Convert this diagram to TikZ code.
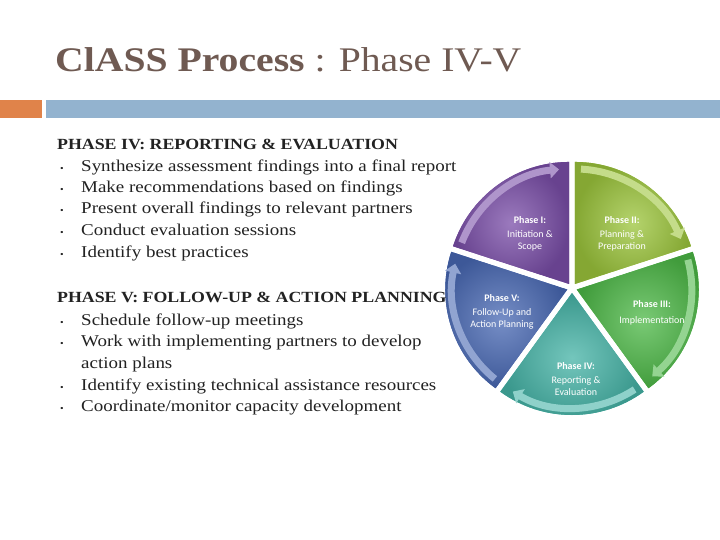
\documentclass[tikz,border=0pt]{standalone}
\usepackage{fontspec}
\setmainfont[FakeStretch=1.15]{Liberation Serif}
\newfontfamily\lblfont{Carlito}
\usetikzlibrary{arrows.meta}
\definecolor{titlec}{HTML}{6F5A52}
\definecolor{orangec}{HTML}{E0834A}
\definecolor{bluec}{HTML}{93B3CF}
\definecolor{txt}{HTML}{222222}
\definecolor{pI}{HTML}{7A4EA8}
\definecolor{pII}{HTML}{9CC53C}
\definecolor{pIII}{HTML}{4DB847}
\definecolor{pIV}{HTML}{45B3A6}
\definecolor{pV}{HTML}{4868B3}
\tikzset{
  body/.style={anchor=base west,font=\fontsize{16.5}{18}\selectfont,text=txt,inner sep=0},
  head/.style={body,font=\fontsize{15.5}{18}\selectfont\bfseries},
  bul/.style={anchor=base west,font=\fontsize{9}{10}\selectfont,text=txt,inner sep=0},
  lbl/.style={align=center,text=white,font=\lblfont\fontsize{10}{12}\selectfont,inner sep=0},
}
\newcommand{\slice}[4]{% start angle, end angle, color, name
  \begin{scope}[shift={(#1/2+#2/2:5)}]
    \fill[#3, shading=radial, inner color=#3!75!white, outer color=#3!85!black]
      (0,0) -- (#1:122) arc[start angle=#1,end angle=#2,radius=122] -- cycle;
    \draw[#3!60!white, line width=7pt, -{Triangle[length=9pt,width=16pt]}]
      (#2-3:115) arc[start angle=#2-3,end angle=#1+5,radius=115];
  \end{scope}}
\begin{document}
\begin{tikzpicture}[x=1pt,y=-1pt]
\useasboundingbox (0,0) rectangle (720,540);
\fill[white] (0,0) rectangle (720,540);
\begin{scope}[shift={(572,288)},y=1pt]
\slice{90}{162}{pI}{s1}
\slice{18}{90}{pII}{s2}
\slice{-54}{18}{pIII}{s3}
\slice{-126}{-54}{pIV}{s4}
\slice{162}{234}{pV}{s5}
\end{scope}
\node[lbl] (l1) at (530,234) {\textbf{Phase I:}\\[2pt]Initiation \&\\Scope};
\node[lbl] (l2) at (622,234) {\textbf{Phase II:}\\[2pt]Planning \&\\Preparation};
\node[lbl] (l3) at (652,313) {\textbf{Phase III:}\\[4pt]Implementation};
\node[lbl] (l4) at (576,379) {\textbf{Phase IV:}\\[2pt]Reporting \&\\Evaluation};
\node[lbl] (l5) at (502,312) {\textbf{Phase V:}\\[2pt]Follow-Up and\\Action Planning};
\node[anchor=base west,inner sep=0,text=titlec,font=\fontsize{34.5}{40}\selectfont] (title) at (55,72) {\textbf{ClASS Process} : Phase IV-V};
\fill[orangec] (0,100) rectangle (42,118);
\fill[bluec] (46,100) rectangle (720,118);
\node[head] (h4) at (57,150) {PHASE IV: REPORTING \& EVALUATION};
\foreach \y/\t [count=\i] in {172/Synthesize assessment findings into a final report,193/Make recommendations based on findings,214/Present overall findings to relevant partners,236/Conduct evaluation sessions,258/Identify best practices}{
  \node[bul] (b4\i) at (60,\y) {\textbullet};
  \node[body] (t4\i) at (81,\y) {\t};
}
\node[head] (h5) at (57,302) {PHASE V: FOLLOW-UP \& ACTION PLANNING};
\foreach \y/\t [count=\i] in {325/{Schedule follow-up meetings},346/{Work with implementing partners to develop},390/{Identify existing technical assistance resources},411/{Coordinate/monitor capacity development}}{
  \node[bul] (b5\i) at (60,\y) {\textbullet};
  \node[body] (t5\i) at (81,\y) {\t};
}
\node[body] (t5x) at (81,368) {action plans};
\end{tikzpicture}
\end{document}
